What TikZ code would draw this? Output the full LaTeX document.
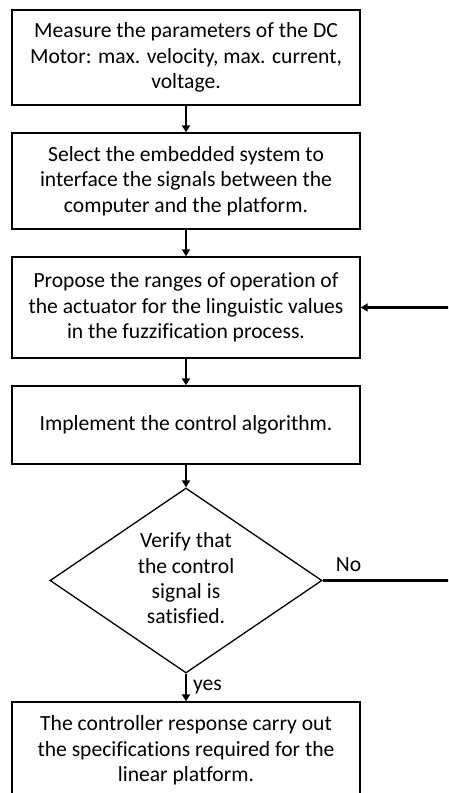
\documentclass[tikz,border=0pt]{standalone}
\usepackage{fontspec}
\setmainfont{Carlito}[Ligatures={NoCommon}]
\usetikzlibrary{shapes.geometric,arrows.meta}
\begin{document}
\begin{tikzpicture}[x=1pt,y=-1pt,
  txt/.style={align=center, inner sep=0pt, font=\fontsize{21.6}{25.3}\selectfont},
  box/.style={txt, draw, line width=1.4pt, minimum width=348pt},
  dia/.style={draw, diamond, line width=1.3pt, minimum width=272pt, minimum height=185pt, inner sep=0pt},
  arr/.style={line width=2.4pt, -{Triangle[length=7pt,width=8pt]}},
  lbl/.style={inner sep=0pt, font=\fontsize{21.6}{25}\selectfont},
]
\useasboundingbox (0,0) rectangle (448,793);
\clip (0,0) rectangle (448,793);
\node[box, minimum height=95pt] (b1) at (186,57.5) {Measure the parameters of the DC\\Motor: max. velocity, max. current,\\voltage.};
\node[box, minimum height=96pt] (b2) at (186,181) {Select the embedded system to\\interface the signals between the\\computer and the platform.};
\node[box, minimum height=101pt] (b3) at (186,307.5) {Propose the ranges of operation of\\the actuator for the linguistic values\\in the fuzzification process.};
\node[box, minimum height=78pt] (b4) at (186,425) {Implement the control algorithm.};
\node[dia] (d) at (186,580.5) {};
\node[txt] (dt) at (186,578.5) {Verify that\\the control\\signal is\\satisfied.};
\node[box, minimum height=97pt] (b5) at (186,750.5) {The controller response carry out\\the specifications required for the\\linear platform.};
\coordinate (c1) at (452,580.5);
\coordinate (c2) at (452,307.5);
\draw[arr] (b1.south) -- (b2.north);
\draw[arr] (b2.south) -- (b3.north);
\draw[arr] (b3.south) -- (b4.north);
\draw[arr] (b4.south) -- (d.north);
\draw[arr] (d.south) -- node[lbl, right=6pt] {yes} (b5.north);
\draw[line width=2.4pt] (d.east) -- node[lbl, above=8pt, pos=0.2] {No} (c1) -- (c2);
\draw[arr] (c2) -- (b3.east);
\end{tikzpicture}
\end{document}
